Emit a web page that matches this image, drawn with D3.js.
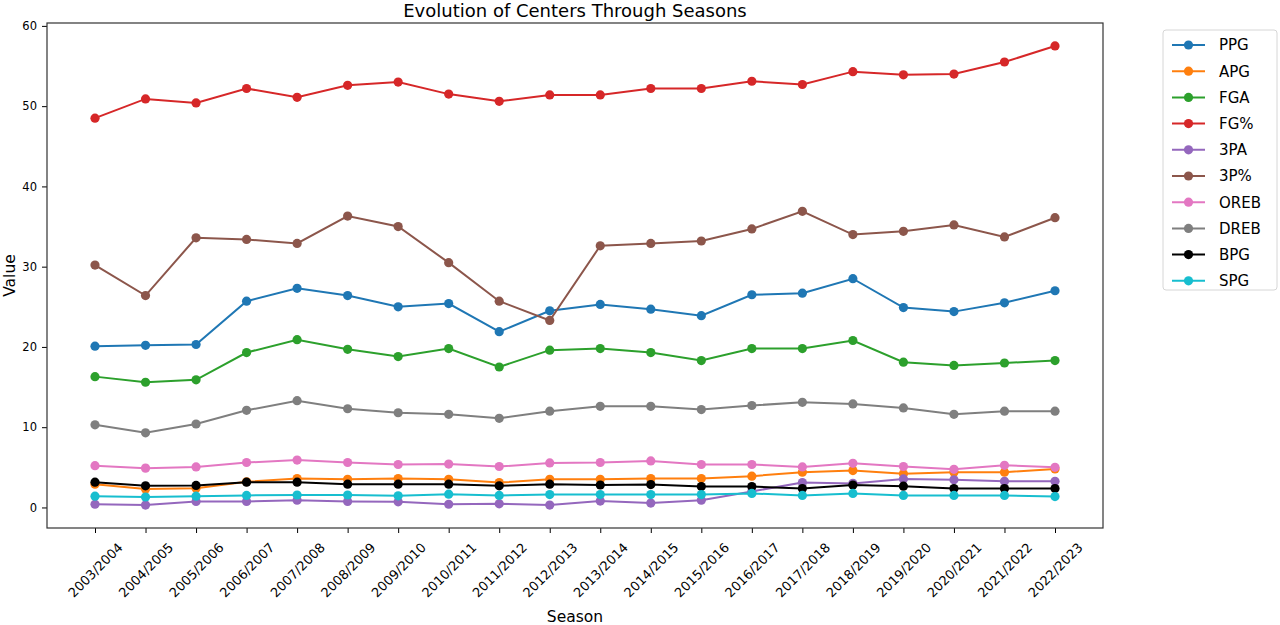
<!DOCTYPE html>
<html>
<head>
<meta charset="utf-8">
<script src="https://cdn.jsdelivr.net/npm/d3@7"></script>
<style>
  body { margin: 0; background: #fff; }
  text { font-family: "DejaVu Sans", sans-serif; }
</style>
</head>
<body>
<div id="chart-area"></div>
<script>
// seasons on the x axis
var seasons = ["2003/2004", "2004/2005", "2005/2006", "2006/2007", "2007/2008",
    "2008/2009", "2009/2010", "2010/2011", "2011/2012", "2012/2013",
    "2013/2014", "2014/2015", "2015/2016", "2016/2017", "2017/2018",
    "2018/2019", "2019/2020", "2020/2021", "2021/2022", "2022/2023"];

var seriesNames = ["PPG", "APG", "FGA", "FG%", "3PA", "3P%", "OREB", "DREB", "BPG", "SPG"];
var seriesColors = ["#1f77b4", "#ff7f0e", "#2ca02c", "#d62728", "#9467bd",
    "#8c564b", "#e377c2", "#7f7f7f", "#000000", "#17becf"];

var ppg  = [20.1, 20.2, 20.3, 25.7, 27.3, 26.4, 25.0, 25.4, 21.9, 24.5, 25.3, 24.7, 23.9, 26.5, 26.7, 28.5, 24.9, 24.4, 25.5, 27.0];
var apg  = [2.9, 2.3, 2.4, 3.2, 3.6, 3.5, 3.6, 3.5, 3.1, 3.5, 3.5, 3.6, 3.6, 3.9, 4.4, 4.6, 4.2, 4.4, 4.4, 4.8];
var fga  = [16.3, 15.6, 15.9, 19.3, 20.9, 19.7, 18.8, 19.8, 17.5, 19.6, 19.8, 19.3, 18.3, 19.8, 19.8, 20.8, 18.1, 17.7, 18.0, 18.3];
var fgPct = [48.5, 50.9, 50.4, 52.2, 51.1, 52.6, 53.0, 51.5, 50.6, 51.4, 51.4, 52.2, 52.2, 53.1, 52.7, 54.3, 53.9, 54.0, 55.5, 57.5];
var tpa  = [0.4, 0.3, 0.75, 0.75, 0.9, 0.75, 0.7, 0.4, 0.45, 0.3, 0.8, 0.55, 0.9, 2.0, 3.1, 3.0, 3.55, 3.45, 3.25, 3.25];
var tpPct = [30.2, 26.4, 33.6, 33.4, 32.9, 36.3, 35.0, 30.5, 25.7, 23.3, 32.6, 32.9, 33.2, 34.7, 36.9, 34.0, 34.4, 35.2, 33.7, 36.1];
var oreb = [5.2, 4.9, 5.05, 5.6, 5.9, 5.6, 5.35, 5.4, 5.1, 5.55, 5.6, 5.8, 5.35, 5.35, 5.05, 5.5, 5.1, 4.75, 5.25, 5.0];
var dreb = [10.3, 9.3, 10.4, 12.1, 13.3, 12.3, 11.8, 11.6, 11.1, 12.0, 12.6, 12.6, 12.2, 12.7, 13.1, 12.9, 12.4, 11.6, 12.0, 12.0];
var bpg  = [3.15, 2.7, 2.75, 3.15, 3.15, 2.9, 2.9, 2.9, 2.7, 2.9, 2.8, 2.85, 2.6, 2.6, 2.35, 2.8, 2.65, 2.35, 2.35, 2.35];
var spg  = [1.4, 1.3, 1.4, 1.5, 1.55, 1.55, 1.45, 1.65, 1.5, 1.6, 1.6, 1.6, 1.6, 1.75, 1.5, 1.75, 1.5, 1.5, 1.5, 1.35];

var yTicks = [0, 10, 20, 30, 40, 50, 60];

var seriesValues = [ppg, apg, fga, fgPct, tpa, tpPct, oreb, dreb, bpg, spg];

var series = seriesNames.map(function(name, i) {
    return { name: name, color: seriesColors[i], values: seriesValues[i] };
});

var width = 1280, height = 625;
var plot = { left: 47, right: 1103, top: 23, bottom: 528 };

var svg = d3.select("#chart-area")
    .append("svg")
    .attr("width", width)
    .attr("height", height);

// matplotlib style margins: 5% on each side
var x = d3.scaleLinear()
    .domain([-0.95, seasons.length - 1 + 0.95])
    .range([plot.left, plot.right]);

var allVals = d3.merge(seriesValues);
var yMin = d3.min(allVals), yMax = d3.max(allVals);
var pad = (yMax - yMin) * 0.05;
var y = d3.scaleLinear()
    .domain([yMin - pad, yMax + pad])
    .range([plot.bottom, plot.top]);

// x axis
var xAxis = svg.append("g")
    .attr("transform", "translate(0," + plot.bottom + ")")
    .call(d3.axisBottom(x)
        .tickValues(d3.range(seasons.length))
        .tickFormat(function(i) { return seasons[i]; })
        .tickSize(5)
        .tickPadding(3));
xAxis.select(".domain").remove();
xAxis.selectAll("line").attr("stroke", "#000").attr("stroke-width", 1);
// labels rotated about their centre, like rotation=45 with ha="center"
xAxis.selectAll("text")
    .attr("font-size", 13)
    .attr("fill", "#000")
    .attr("text-anchor", "middle")
    .attr("y", 0)
    .attr("dy", "0.35em")
    .attr("transform", "translate(0,42) rotate(-45)");

// y axis
var yAxis = svg.append("g")
    .attr("transform", "translate(" + plot.left + ",0)")
    .call(d3.axisLeft(y)
        .tickValues(yTicks)
        .tickSize(5)
        .tickPadding(5));
yAxis.select(".domain").remove();
yAxis.selectAll("line").attr("stroke", "#000").attr("stroke-width", 1);
yAxis.selectAll("text").attr("font-size", 11.5).attr("fill", "#000");

// frame
svg.append("rect")
    .attr("x", plot.left)
    .attr("y", plot.top)
    .attr("width", plot.right - plot.left)
    .attr("height", plot.bottom - plot.top)
    .attr("fill", "none")
    .attr("stroke", "#333")
    .attr("stroke-width", 1.2);

var line = d3.line()
    .x(function(d, i) { return x(i); })
    .y(function(d) { return y(d); });

var groups = svg.selectAll(".series")
        .data(series)
    .enter()
        .append("g")
        .attr("class", "series");

groups.append("path")
    .attr("d", function(d) { return line(d.values); })
    .attr("fill", "none")
    .attr("stroke", function(d) { return d.color; })
    .attr("stroke-width", 2);

groups.selectAll("circle")
    .data(function(d) { return d.values.map(function(v) { return { v: v, color: d.color }; }); })
    .enter()
    .append("circle")
    .attr("cx", function(d, i) { return x(i); })
    .attr("cy", function(d) { return y(d.v); })
    .attr("r", 4.6)
    .attr("fill", function(d) { return d.color; });

// title and axis labels
svg.append("text")
    .attr("x", (plot.left + plot.right) / 2)
    .attr("y", 17)
    .attr("text-anchor", "middle")
    .attr("font-size", 18)
    .text("Evolution of Centers Through Seasons");

svg.append("text")
    .attr("x", (plot.left + plot.right) / 2)
    .attr("y", 622)
    .attr("text-anchor", "middle")
    .attr("font-size", 15.5)
    .text("Season");

svg.append("text")
    .attr("transform", "translate(15," + (plot.top + plot.bottom) / 2 + ") rotate(-90)")
    .attr("text-anchor", "middle")
    .attr("font-size", 15.5)
    .text("Value");

// legend
var legend = svg.append("g").attr("transform", "translate(1163,30)");
legend.append("rect")
    .attr("width", 114)
    .attr("height", 260)
    .attr("rx", 3)
    .attr("fill", "#fff")
    .attr("stroke", "#d6d6d6");

var items = legend.selectAll(".item")
        .data(series)
    .enter()
        .append("g")
        .attr("transform", function(d, i) { return "translate(0," + (15 + i * 26.2) + ")"; });

items.append("line")
    .attr("x1", 9).attr("x2", 42)
    .attr("stroke", function(d) { return d.color; })
    .attr("stroke-width", 2);
items.append("circle")
    .attr("cx", 25.5)
    .attr("r", 4.6)
    .attr("fill", function(d) { return d.color; });
items.append("text")
    .attr("x", 56)
    .attr("dy", "0.36em")
    .attr("font-size", 15)
    .text(function(d) { return d.name; });
</script>
</body>
</html>
